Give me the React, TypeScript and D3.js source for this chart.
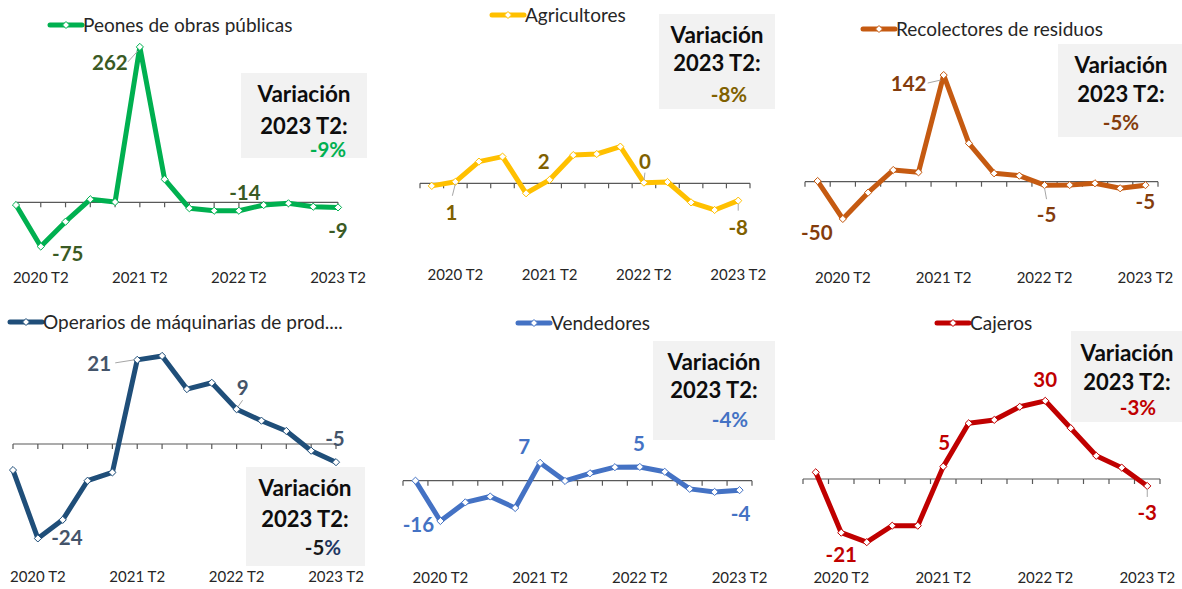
import * as d3 from "d3";

// 2020 T1 .. 2023 T2
const QUARTERS = [
  "2020 T1", "2020 T2", "2020 T3", "2020 T4",
  "2021 T1", "2021 T2", "2021 T3", "2021 T4",
  "2022 T1", "2022 T2", "2022 T3", "2022 T4",
  "2023 T1", "2023 T2",
];
const TICK_LABELS = ["2020 T2", "2021 T2", "2022 T2", "2023 T2"];

const SERIES_NAMES = [
  "Peones de obras públicas",
  "Agricultores",
  "Recolectores de residuos",
  "Operarios de máquinarias de prod....",
  "Vendedores",
  "Cajeros",
];

const PEONES = [-4.6, -74.6, -32.7, 5.1, 0.5, 262, 38.8, -10.1, -14.2, -14.2, -4.6, -1.7, -7.4, -8.6];
const AGRICULTORES = [-1.2, 0.7, 10.0, 12.3, -4.6, 1.6, 13.0, 13.5, 16.9, 0.3, 0.6, -8.8, -12.3, -8.0];
const RECOLECTORES = [0.9, -49.6, -14.6, 15.6, 12.5, 142, 51.1, 11.2, 8.0, -4.6, -4.4, -2.1, -8.8, -4.6];
const OPERARIOS = [-6.6, -23.9, -19.2, -9.3, -7.2, 21.3, 22.3, 13.9, 15.5, 8.8, 5.9, 3.3, -1.7, -4.6];
const VENDEDORES = [0, -15.8, -8.5, -6.2, -10.7, 7.0, -0.1, 2.9, 5.3, 5.4, 3.5, -3.2, -4.4, -3.7];
const CAJEROS = [2.6, -20.8, -24.5, -18.1, -18.1, 4.8, 21.6, 22.9, 28.0, 30.3, 19.7, 9.0, 4.4, -2.7];

const VARIATION = [-9, -8, -5, -5, -4, -3];

// points that carry a data label
const LABELED = [1, 5, 9, 13];

const FONT = "Lato, 'Open Sans', sans-serif";

interface LabelPos {
  dx: number;
  dy: number;
  leader?: [number, number, number, number]; // offsets from point: x1,y1,x2,y2
}

interface Panel {
  values: number[];
  color: string;
  labelColor: string;
  pctColor: string;
  splitPct?: boolean;
  onTicks: boolean;
  axis: [number, number];
  zeroY: number;
  pxPerUnit: number;
  legendX: number;
  legendY: number;
  box: { x: number; y: number; w: number; h: number };
  boxCx: number;
  boxLines: [number, number, number];
  pctX: number;
  tickY: number;
  labels: LabelPos[];
}

const PANELS: Panel[] = [
  {
    values: PEONES, color: "#00B050", labelColor: "#3A5A24", pctColor: "#00B050",
    onTicks: true, axis: [16, 338], zeroY: 202.3, pxPerUnit: 0.593,
    legendX: 50, legendY: 25,
    box: { x: 241, y: 73, w: 126, h: 85 }, boxCx: 304, boxLines: [94, 126, 150], pctX: 328,
    tickY: 278,
    labels: [
      { dx: 27, dy: 7 },
      { dx: -30, dy: 16, leader: [-12, 15, -2, 4] },
      { dx: 6, dy: -18 },
      { dx: 0, dy: 23 },
    ],
  },
  {
    values: AGRICULTORES, color: "#FFC000", labelColor: "#7F6000", pctColor: "#7F6000",
    onTicks: false, axis: [420, 750], zeroY: 183.3, pxPerUnit: 2.17,
    legendX: 492, legendY: 15,
    box: { x: 659, y: 14, w: 116, h: 95 }, boxCx: 717, boxLines: [35, 63, 95], pctX: 729,
    tickY: 275,
    labels: [
      { dx: -4, dy: 31, leader: [0, 2, -3, 14] },
      { dx: -6, dy: -18 },
      { dx: 1, dy: -21, leader: [1, -10, 0, -2] },
      { dx: 0, dy: 27, leader: [0, 3, 0, 10] },
    ],
  },
  {
    values: RECOLECTORES, color: "#C55A11", labelColor: "#843C0C", pctColor: "#843C0C",
    onTicks: false, axis: [805, 1158], zeroY: 181.7, pxPerUnit: 0.751,
    legendX: 863, legendY: 29,
    box: { x: 1058, y: 44, w: 124, h: 93 }, boxCx: 1121, boxLines: [65, 94, 123], pctX: 1121,
    tickY: 278,
    labels: [
      { dx: -26, dy: 14 },
      { dx: -35, dy: 9, leader: [-16, 8, -3, 5] },
      { dx: 2, dy: 29, leader: [0, 3, 2, 14] },
      { dx: 0, dy: 16 },
    ],
  },
  {
    values: OPERARIOS, color: "#1F4E79", labelColor: "#44546A", pctColor: "#1F3864", splitPct: true,
    onTicks: true, axis: [13, 336], zeroY: 444, pxPerUnit: 3.95,
    legendX: 10, legendY: 322,
    box: { x: 246, y: 467, w: 119, h: 99 }, boxCx: 305, boxLines: [488, 519, 548], pctX: 323,
    tickY: 577,
    labels: [
      { dx: 29, dy: -1 },
      { dx: -38, dy: 4, leader: [-22, 3, -3, 0] },
      { dx: 6, dy: -22, leader: [1, -2, 6, -9] },
      { dx: -1, dy: -24 },
    ],
  },
  {
    values: VENDEDORES, color: "#4472C4", labelColor: "#4472C4", pctColor: "#4472C4",
    onTicks: false, axis: [403, 752], zeroY: 480.7, pxPerUnit: 2.55,
    legendX: 518, legendY: 323,
    box: { x: 653, y: 341, w: 122, h: 99 }, boxCx: 714, boxLines: [362, 390, 420], pctX: 730,
    tickY: 578,
    labels: [
      { dx: -22, dy: 4 },
      { dx: -16, dy: -16 },
      { dx: -1, dy: -23 },
      { dx: 1, dy: 23 },
    ],
  },
  {
    values: CAJEROS, color: "#C00000", labelColor: "#C00000", pctColor: "#C00000",
    onTicks: false, axis: [803, 1160], zeroY: 479, pxPerUnit: 2.58,
    legendX: 937, legendY: 323,
    box: { x: 1071, y: 331, w: 111, h: 91 }, boxCx: 1127, boxLines: [353, 382, 408], pctX: 1138,
    tickY: 578,
    labels: [
      { dx: 0, dy: 22 },
      { dx: 1, dy: -24 },
      { dx: 0, dy: -21 },
      { dx: 0, dy: 27, leader: [0, 3, 0, 11] },
    ],
  },
];

const diamond = (r: number) => `M0,${-r}L${r},0L0,${r}L${-r},0Z`;

function SmallChart({ p, name, variation }: { p: Panel; name: string; variation: number }) {
  const [a0, a1] = p.axis;
  let px: (q: string) => number;
  let tickXs: number[];
  if (p.onTicks) {
    const x = d3.scalePoint<string>().domain(QUARTERS).range([a0, a1]).padding(0);
    px = (q) => x(q) ?? 0;
    tickXs = QUARTERS.map((q) => x(q) ?? 0);
  } else {
    const x = d3.scaleBand<string>().domain(QUARTERS).range([a0, a1]).padding(0);
    px = (q) => (x(q) ?? 0) + x.bandwidth() / 2;
    tickXs = [...QUARTERS.map((q) => x(q) ?? 0), a1];
  }
  const y = d3
    .scaleLinear()
    .domain([0, 100])
    .range([p.zeroY, p.zeroY - 100 * p.pxPerUnit]);

  const pts = p.values.map((v, i) => ({ q: QUARTERS[i], v }));
  const line = d3
    .line<{ q: string; v: number }>()
    .x((d) => px(d.q))
    .y((d) => y(d.v));

  const zy = y(0);
  const lx = p.legendX;

  return (
    <g>
      {/* legend */}
      <line x1={lx} x2={lx + 32} y1={p.legendY} y2={p.legendY} stroke={p.color} strokeWidth={5} strokeLinecap="round" />
      <path d={diamond(3.5)} transform={`translate(${lx + 16},${p.legendY})`} fill="#fff" stroke={p.color} strokeWidth={1} />
      <text x={lx + 33} y={p.legendY} dy="0.35em" fontSize={19} fill="#262626" fontFamily={FONT}>
        {name}
      </text>

      {/* variation box */}
      <rect x={p.box.x} y={p.box.y} width={p.box.w} height={p.box.h} fill="#F2F2F2" />
      <text x={p.boxCx} y={p.boxLines[0]} dy="0.36em" textAnchor="middle" fontSize={22.5} fontWeight={700} fill="#0d0d0d" fontFamily={FONT}>
        Variación
      </text>
      <text x={p.boxCx} y={p.boxLines[1]} dy="0.36em" textAnchor="middle" fontSize={22} fontWeight={700} fill="#0d0d0d" fontFamily={FONT}>
        2023 T2:
      </text>
      <text x={p.pctX} y={p.boxLines[2]} dy="0.36em" textAnchor="middle" fontSize={20.5} fontWeight={700} fill={p.pctColor} fontFamily={FONT}>
        {p.splitPct ? (
          <>
            <tspan fill="#1a1a1a">{`${variation}`}</tspan>
            <tspan>%</tspan>
          </>
        ) : (
          `${variation}%`
        )}
      </text>

      {/* axis */}
      <line x1={a0} x2={a1} y1={zy} y2={zy} stroke="#595959" strokeWidth={1.2} />
      {tickXs.map((tx, i) => (
        <line key={i} x1={tx} x2={tx} y1={zy} y2={zy + 5} stroke="#595959" strokeWidth={1.2} />
      ))}
      {TICK_LABELS.map((t) => (
        <text key={t} x={px(t)} y={p.tickY} dy="0.36em" textAnchor="middle" fontSize={15} fill="#262626" fontFamily={FONT}>
          {t}
        </text>
      ))}

      {/* series */}
      <path d={line(pts) ?? ""} fill="none" stroke={p.color} strokeWidth={5} strokeLinejoin="round" />
      {pts.map((d, i) => (
        <path key={i} d={diamond(3.6)} transform={`translate(${px(d.q)},${y(d.v)})`} fill="#fff" stroke={p.color} strokeWidth={1} />
      ))}

      {/* data labels */}
      {LABELED.map((idx, k) => {
        const d = pts[idx];
        const cx = px(d.q);
        const cy = y(d.v);
        const lp = p.labels[k];
        return (
          <g key={idx}>
            {lp.leader && (
              <line
                x1={cx + lp.leader[0]}
                y1={cy + lp.leader[1]}
                x2={cx + lp.leader[2]}
                y2={cy + lp.leader[3]}
                stroke="#A6A6A6"
                strokeWidth={1}
              />
            )}
            <text x={cx + lp.dx} y={cy + lp.dy} dy="0.36em" textAnchor="middle" fontSize={20.5} fontWeight={700} fill={p.labelColor} fontFamily={FONT}>
              {`${Math.round(d.v)}`}
            </text>
          </g>
        );
      })}
    </g>
  );
}

export default function App() {
  return (
    <svg width={1182} height={589} style={{ position: "absolute", left: 0, top: 0, background: "#fff" }}>
      {PANELS.map((p, i) => (
        <SmallChart key={i} p={p} name={SERIES_NAMES[i]} variation={VARIATION[i]} />
      ))}
    </svg>
  );
}
